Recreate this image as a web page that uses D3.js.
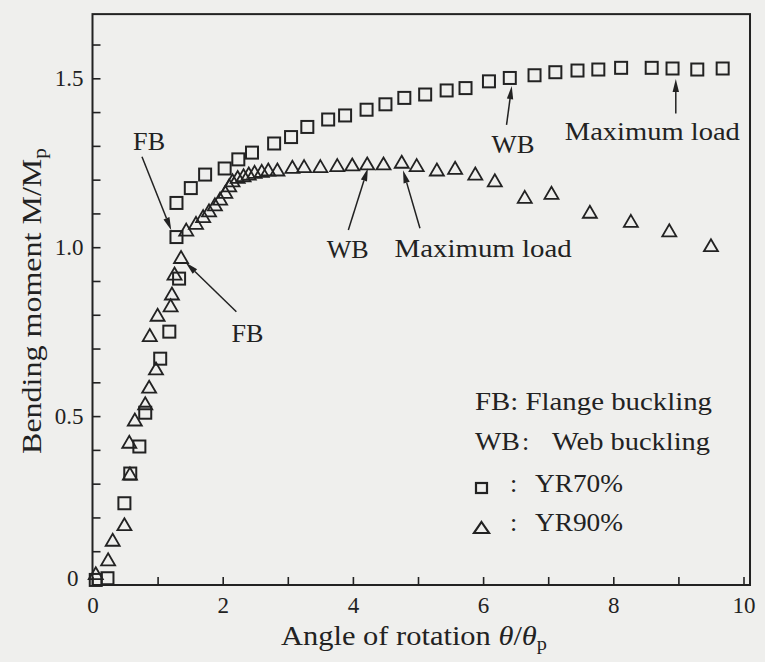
<!DOCTYPE html>
<html>
<head>
<meta charset="utf-8">
<script src="https://cdn.jsdelivr.net/npm/d3@7"></script>
<style>
  html, body { margin: 0; padding: 0; background: #efefed; }
  svg { display: block; }
  text { font-family: "Liberation Serif", "Times New Roman", serif; fill: #222; }
</style>
</head>
<body>
<svg id="chart" width="765" height="662"></svg>
<script>
// ---- data ----
const yr70X = [0.05, 0.23, 0.49, 0.58, 0.72, 0.81, 1.04, 1.18, 1.33, 1.29, 1.29, 1.51, 1.73, 2.03, 2.24, 2.45, 2.79, 3.05, 3.30, 3.62, 3.88, 4.21, 4.50, 4.79, 5.11, 5.44, 5.73, 6.09, 6.41, 6.79, 7.11, 7.45, 7.77, 8.12, 8.59, 8.91, 9.29, 9.68];
const yr70Y = [0.015, 0.02, 0.242, 0.33, 0.41, 0.51, 0.67, 0.75, 0.907, 1.03, 1.131, 1.175, 1.215, 1.233, 1.26, 1.28, 1.307, 1.326, 1.356, 1.378, 1.39, 1.407, 1.423, 1.442, 1.452, 1.464, 1.471, 1.491, 1.501, 1.509, 1.518, 1.523, 1.526, 1.531, 1.531, 1.529, 1.526, 1.529];

const yr90X = [0.05, 0.24, 0.31, 0.49, 0.575, 0.565, 0.65, 0.81, 0.87, 0.975, 0.88, 1.00, 1.20, 1.22, 1.26, 1.36, 1.44, 1.59, 1.70, 1.79, 1.88, 1.96, 2.04, 2.10, 2.15, 2.23, 2.32, 2.40, 2.49, 2.60, 2.70, 2.84, 3.07, 3.25, 3.50, 3.76, 3.99, 4.22, 4.47, 4.75, 4.98, 5.29, 5.57, 5.88, 6.18, 6.64, 7.05, 7.64, 8.27, 8.86, 9.50];
const yr90Y = [0.035, 0.076, 0.134, 0.18, 0.33, 0.424, 0.49, 0.538, 0.587, 0.641, 0.74, 0.80, 0.828, 0.863, 0.922, 0.971, 1.052, 1.072, 1.092, 1.109, 1.127, 1.144, 1.164, 1.183, 1.198, 1.208, 1.213, 1.218, 1.223, 1.226, 1.23, 1.23, 1.238, 1.24, 1.24, 1.243, 1.245, 1.248, 1.248, 1.253, 1.243, 1.23, 1.235, 1.218, 1.198, 1.149, 1.161, 1.105, 1.078, 1.05, 1.006];

const xTickValues = [0,1,2,3,4,5,6,7,8,9,10];
const xTickLabels = ["0","","2","","4","","6","","8","","10"];
const yTickValues = [0,0.1,0.2,0.3,0.4,0.5,0.6,0.7,0.8,0.9,1.0,1.1,1.2,1.3,1.4,1.5,1.6];
const yTickLabels = ["0","","","","","0.5","","","","","1.0","","","","","1.5",""];

// annotations: label, text anchor point (data units), arrow tail and tip (data units)
const annLabels = ["FB", "FB", "WB", "Maximum load", "WB", "Maximum load"];
const annTextX  = [0.87, 2.38, 3.92, 6.00, 6.46, 8.60];
const annTextY  = [1.288, 0.719, 0.968, 0.971, 1.279, 1.317];
const annTailX  = [0.76, 2.21, 3.93, 5.03, 6.36, 8.96];
const annTailY  = [1.268, 0.809, 1.051, 1.056, 1.362, 1.396];
const annTipX   = [1.21, 1.43, 4.23, 4.77, 6.44, 8.96];
const annTipY   = [1.050, 0.955, 1.234, 1.228, 1.477, 1.498];
const annWidth  = [32, 32, 42, 177, 43, 175];

// ---- layout ----
const svg = d3.select("#chart");
const W = 765, H = 662;
const xMaxFrame = 10.1, yMaxFrame = 1.69;
const x = d3.scaleLinear().domain([0, 10]).range([92.5, 743.5]);
const y = d3.scaleLinear().domain([0, 1.5]).range([585, 78.3]);
const ink = "#222";

svg.append("rect").attr("width", W).attr("height", H).attr("fill", "#efefed");

// frame
svg.append("rect")
  .attr("x", x(0)).attr("y", y(yMaxFrame))
  .attr("width", x(xMaxFrame) - x(0)).attr("height", y(0) - y(yMaxFrame))
  .attr("fill", "none").attr("stroke", ink).attr("stroke-width", 2);

// x axis
const xAxis = d3.axisBottom(x).tickValues(xTickValues)
  .tickFormat((d, i) => xTickLabels[i]).tickSize(-8).tickPadding(12);
const gx = svg.append("g").attr("transform", `translate(0,${y(0)})`).call(xAxis);
gx.select(".domain").remove();
gx.selectAll(".tick line").attr("stroke", ink).attr("stroke-width", 1.6);
gx.selectAll(".tick text").attr("font-size", 23).attr("fill", ink);

// y axis
const yAxis = d3.axisLeft(y).tickValues(yTickValues)
  .tickFormat((d, i) => yTickLabels[i]).tickSize(-8).tickPadding(9);
const gy = svg.append("g").attr("transform", `translate(${x(0)},0)`).call(yAxis);
gy.select(".domain").remove();
gy.selectAll(".tick line").attr("stroke", ink).attr("stroke-width", 1.6);
gy.selectAll(".tick text").attr("font-size", 23).attr("fill", ink);
gy.selectAll(".tick").filter(d => d === 0).select("text").attr("dy", "0.0em").attr("x", -14);

// axis titles
const xt = svg.append("text").attr("x", 414).attr("y", 645).attr("text-anchor", "middle")
  .attr("font-size", 27).attr("textLength", 266).attr("lengthAdjust", "spacingAndGlyphs");
xt.append("tspan").text("Angle of rotation ");
xt.append("tspan").attr("font-style", "italic").text("θ");
xt.append("tspan").text("/");
xt.append("tspan").attr("font-style", "italic").text("θ");
xt.append("tspan").attr("font-size", 18).attr("dy", 5).text("p");

const yt = svg.append("text").attr("transform", "translate(41,301) rotate(-90)")
  .attr("text-anchor", "middle").attr("font-size", 27)
  .attr("textLength", 306).attr("lengthAdjust", "spacingAndGlyphs");
yt.append("tspan").text("Bending moment M/M");
yt.append("tspan").attr("font-size", 18).attr("dy", 5).text("p");

// markers
const sq = 12;
svg.append("g").selectAll("rect").data(d3.range(yr70X.length)).join("rect")
  .attr("x", i => x(yr70X[i]) - sq / 2).attr("y", i => y(yr70Y[i]) - sq / 2)
  .attr("width", sq).attr("height", sq)
  .attr("fill", "none").attr("stroke", ink).attr("stroke-width", 2);

function triPath(cx, cy, w, h) {
  return `M${cx},${cy - h / 2}L${cx + w / 2},${cy + h / 2}L${cx - w / 2},${cy + h / 2}Z`;
}
svg.append("g").selectAll("path").data(d3.range(yr90X.length)).join("path")
  .attr("d", i => triPath(x(yr90X[i]), y(yr90Y[i]), 14, 12))
  .attr("fill", "none").attr("stroke", ink).attr("stroke-width", 1.8).attr("stroke-linejoin", "miter");

// annotations
const ag = svg.append("g");
annLabels.forEach((lab, i) => {
  ag.append("text").attr("x", x(annTextX[i])).attr("y", y(annTextY[i]))
    .attr("text-anchor", "middle").attr("font-size", 26)
    .attr("textLength", annWidth[i]).attr("lengthAdjust", "spacingAndGlyphs").text(lab);
  const x0 = x(annTailX[i]), y0 = y(annTailY[i]), x1 = x(annTipX[i]), y1 = y(annTipY[i]);
  const ang = Math.atan2(y1 - y0, x1 - x0);
  const L = 13, hw = 3.2;
  const bx = x1 - L * Math.cos(ang), by = y1 - L * Math.sin(ang);
  ag.append("line").attr("x1", x0).attr("y1", y0).attr("x2", bx).attr("y2", by)
    .attr("stroke", ink).attr("stroke-width", 1.5);
  ag.append("path")
    .attr("d", `M${x1},${y1}L${bx + hw * Math.sin(ang)},${by - hw * Math.cos(ang)}L${bx - hw * Math.sin(ang)},${by + hw * Math.cos(ang)}Z`)
    .attr("fill", ink);
});

// legend
const lg = svg.append("g");
lg.append("text").attr("x", 475).attr("y", 410).attr("font-size", 26)
  .attr("textLength", 237).attr("lengthAdjust", "spacingAndGlyphs").text("FB: Flange buckling");
lg.append("text").attr("x", 475).attr("y", 450).attr("font-size", 26)
  .attr("textLength", 45).attr("lengthAdjust", "spacingAndGlyphs").text("WB");
lg.append("text").attr("x", 522).attr("y", 450).attr("font-size", 26).text(":");
lg.append("text").attr("x", 552).attr("y", 450).attr("font-size", 26)
  .attr("textLength", 158).attr("lengthAdjust", "spacingAndGlyphs").text("Web buckling");
lg.append("rect").attr("x", 476).attr("y", 483).attr("width", 11).attr("height", 10)
  .attr("fill", "none").attr("stroke", ink).attr("stroke-width", 2.2);
lg.append("text").attr("x", 510).attr("y", 492).attr("font-size", 26).text(":");
lg.append("text").attr("x", 535).attr("y", 492).attr("font-size", 26)
  .attr("textLength", 88).attr("lengthAdjust", "spacingAndGlyphs").text("YR70%");
lg.append("path").attr("d", triPath(481.5, 527.5, 15, 11))
  .attr("fill", "none").attr("stroke", ink).attr("stroke-width", 2.2);
lg.append("text").attr("x", 510).attr("y", 531).attr("font-size", 26).text(":");
lg.append("text").attr("x", 535).attr("y", 531).attr("font-size", 26)
  .attr("textLength", 88).attr("lengthAdjust", "spacingAndGlyphs").text("YR90%");
</script>
</body>
</html>
